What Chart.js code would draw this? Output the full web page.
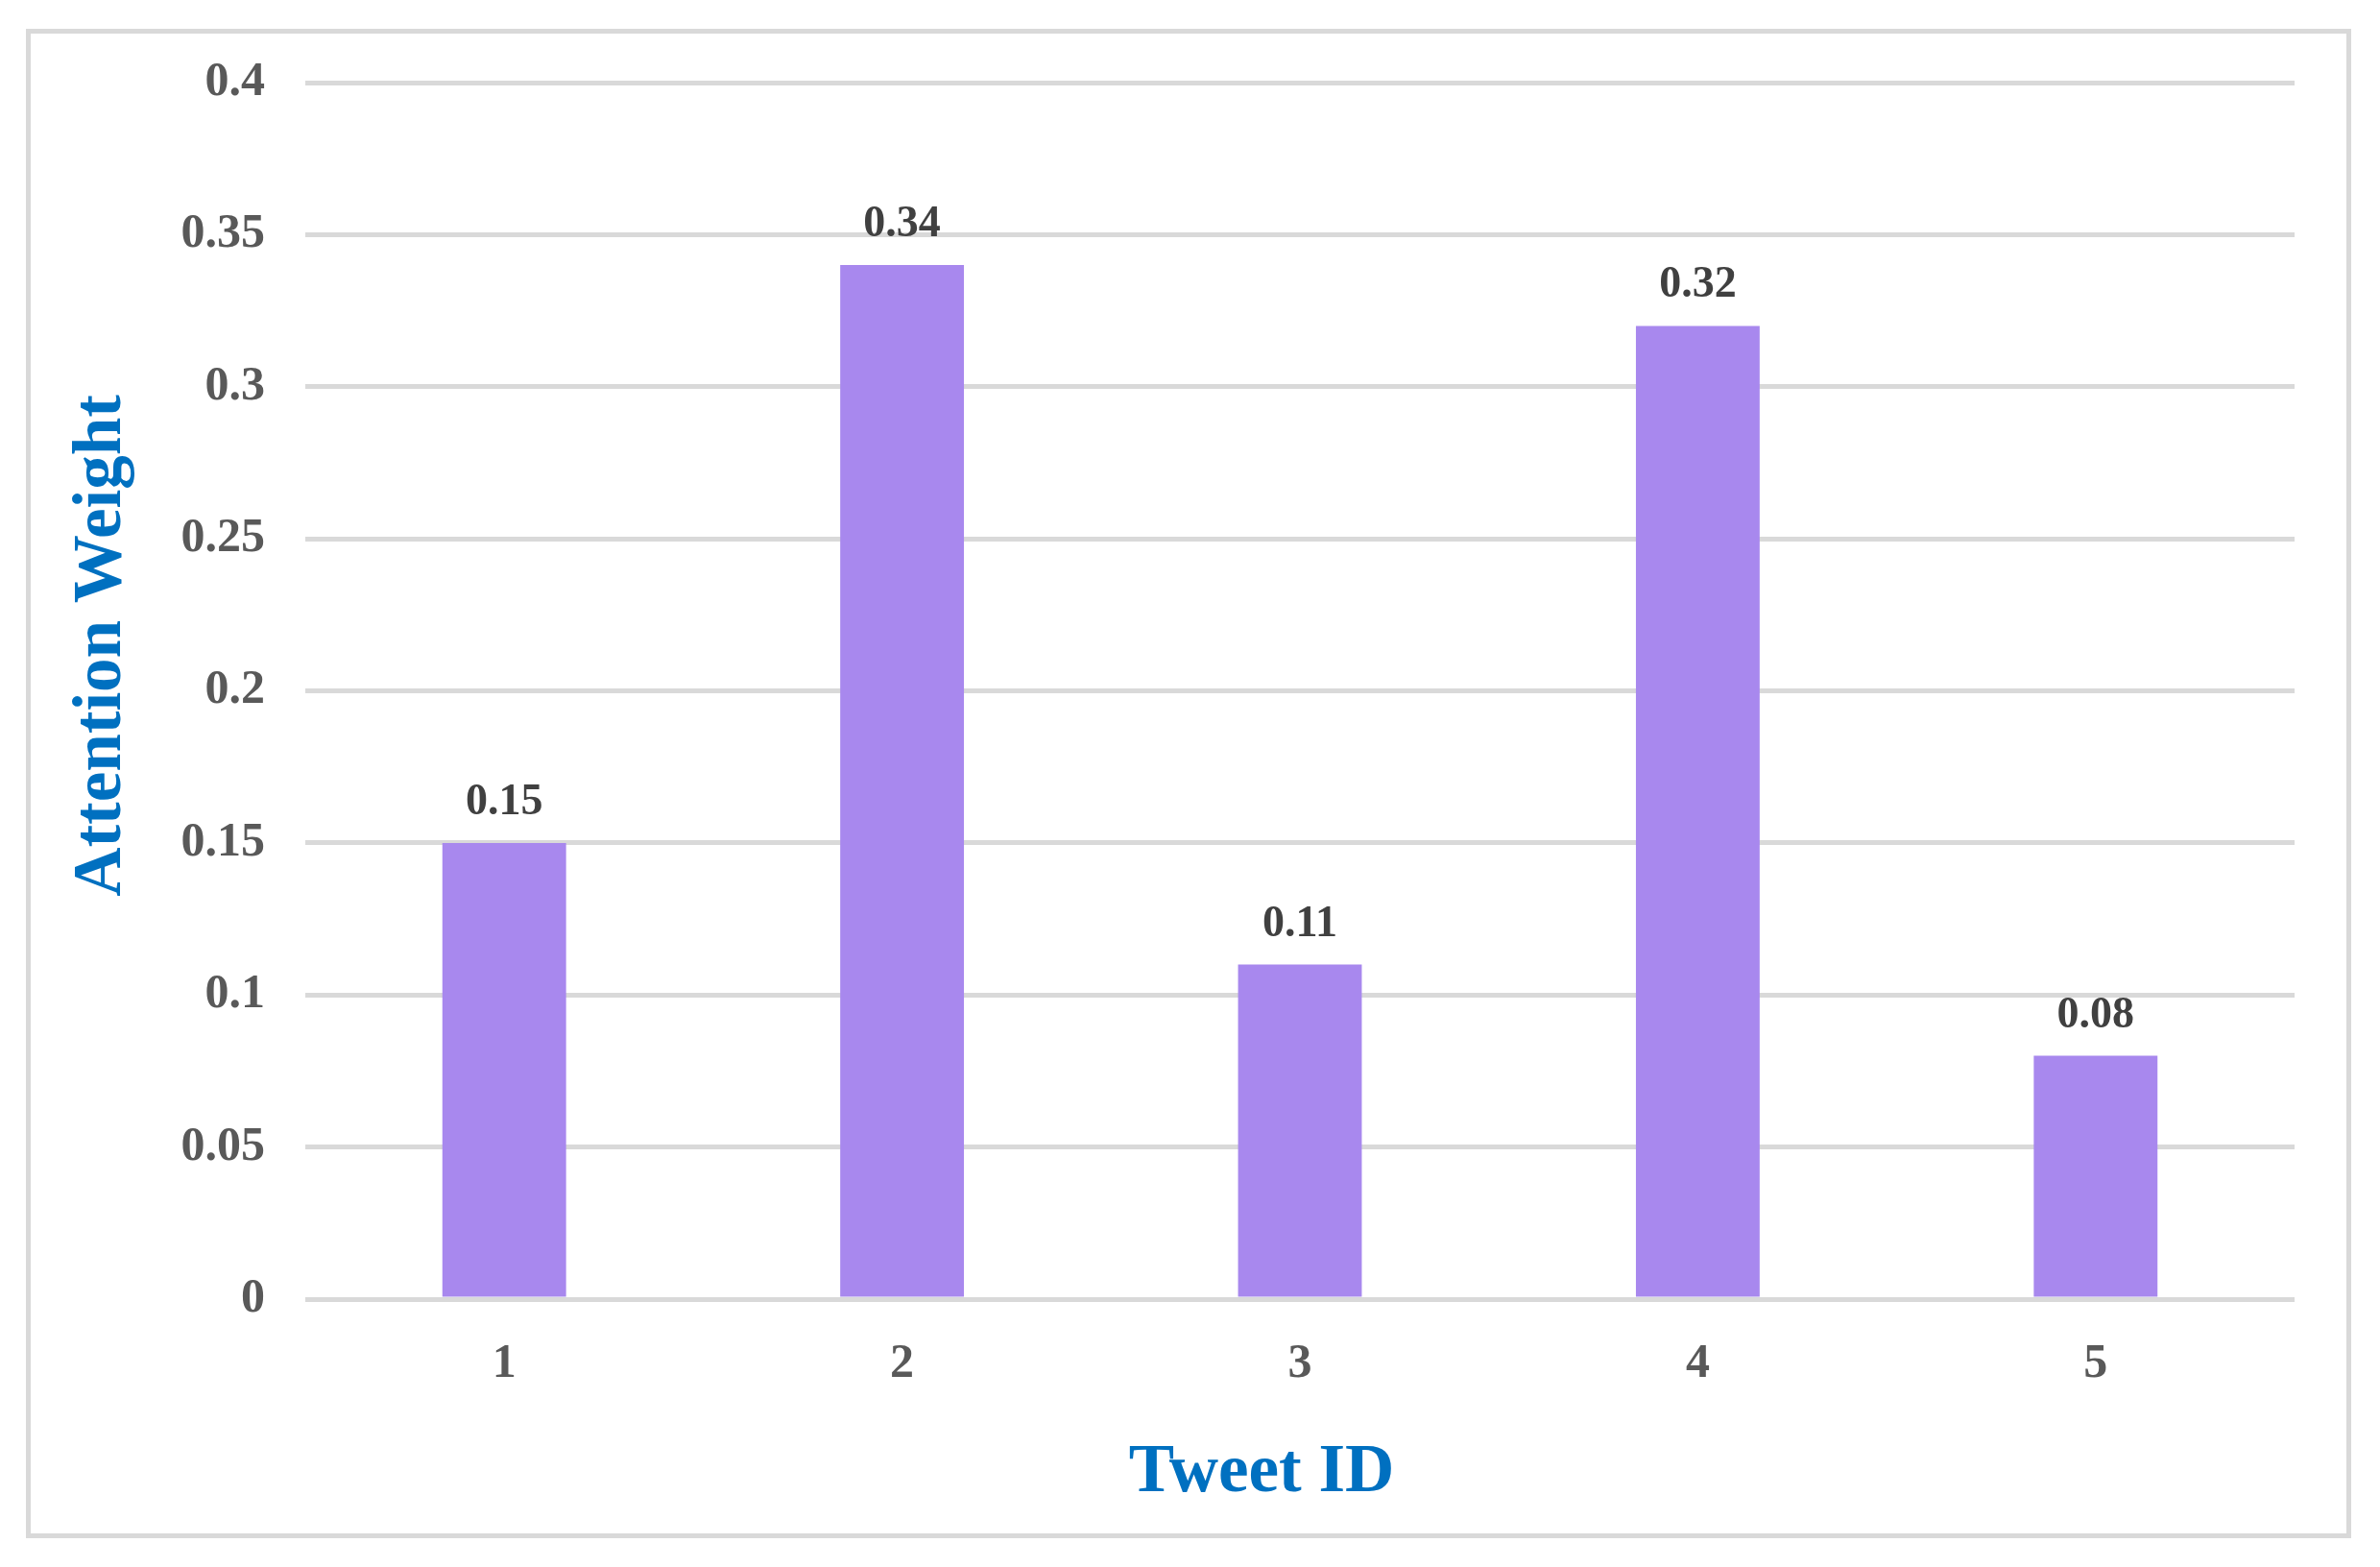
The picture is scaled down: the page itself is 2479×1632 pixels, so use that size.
<!DOCTYPE html>
<html>
<head>
<meta charset="utf-8">
<script src="https://cdn.jsdelivr.net/npm/chart.js@4.4.1/dist/chart.umd.min.js"></script>
<style>
  html, body { margin: 0; padding: 0; background: #fff; }
  #frame {
    position: absolute; left: 27px; top: 30px;
    width: 2412px; height: 1562px;
    border: 5px solid #d9d9d9; background: #fff;
  }
  #chart { display: block; }
</style>
</head>
<body>
<div id="frame"><canvas id="chart" width="2412" height="1562"></canvas></div>
<script>
// data
const tweetIds = ['1', '2', '3', '4', '5'];
const attentionWeights = [0.15, 0.34, 0.11, 0.32, 0.08];
const yTickLabels = ['0', '0.05', '0.1', '0.15', '0.2', '0.25', '0.3', '0.35', '0.4'];
const xTitle = 'Tweet ID';
const yTitle = 'Attention Weight';

const serif = '"Liberation Serif", "Times New Roman", serif';

// value labels above each bar
const valueLabels = {
    id: 'valueLabels',
    afterDatasetsDraw(chart) {
        const ctx = chart.ctx;
        const meta = chart.getDatasetMeta(0);
        ctx.save();
        ctx.font = 'bold 46px ' + serif;
        ctx.fillStyle = '#404040';
        ctx.textAlign = 'center';
        ctx.textBaseline = 'alphabetic';
        meta.data.forEach((bar, i) => {
            ctx.fillText(String(attentionWeights[i]), bar.x, bar.y - 30);
        });
        ctx.restore();
    }
};

// axis titles (placed like the excel original, a bit off centre)
const axisTitles = {
    id: 'axisTitles',
    afterDraw(chart) {
        const ctx = chart.ctx;
        const area = chart.chartArea;
        const midX = (area.left + area.right) / 2;
        const midY = (area.top + area.bottom) / 2;
        ctx.save();
        ctx.font = 'bold 71px ' + serif;
        ctx.fillStyle = '#0070c0';
        ctx.textAlign = 'center';
        ctx.textBaseline = 'alphabetic';
        ctx.fillText(xTitle, midX - 40, area.bottom + 200);
        ctx.translate(area.left - 193, midY - 47);
        ctx.rotate(-Math.PI / 2);
        ctx.fillText(yTitle, 0, 0);
        ctx.restore();
    }
};

const ctx = document.getElementById('chart');
new Chart(ctx, {
    type: 'bar',
    data: {
        labels: tweetIds,
        datasets: [{
            data: attentionWeights,
            backgroundColor: '#a888ee',
            borderWidth: 0,
            barPercentage: 1,
            categoryPercentage: 0.311
        }]
    },
    options: {
        responsive: false,
        animation: false,
        layout: { padding: { top: 51, right: 54, left: 0, bottom: 0 } },
        plugins: {
            legend: { display: false },
            tooltip: { enabled: false }
        },
        scales: {
            x: {
                grid: { display: false },
                border: { display: false },
                ticks: {
                    color: '#595959',
                    font: { family: serif, size: 50, weight: 'bold' },
                    padding: 30
                },
                afterFit: (scale) => {
                    scale.height = 244;
                    scale.paddingLeft = 0;
                    scale.paddingRight = 0;
                }
            },
            y: {
                min: 0, max: 0.4,
                grid: { color: '#d9d9d9', lineWidth: 5, drawTicks: false },
                border: { display: false },
                ticks: {
                    stepSize: 0.05,
                    color: '#595959',
                    font: { family: serif, size: 50, weight: 'bold' },
                    padding: 42,
                    callback: (val, i) => yTickLabels[i]
                },
                afterFit: (scale) => {
                    scale.width = 286;
                    scale.paddingTop = 0;
                    scale.paddingBottom = 0;
                }
            }
        }
    },
    plugins: [valueLabels, axisTitles]
});
</script>
</body>
</html>
